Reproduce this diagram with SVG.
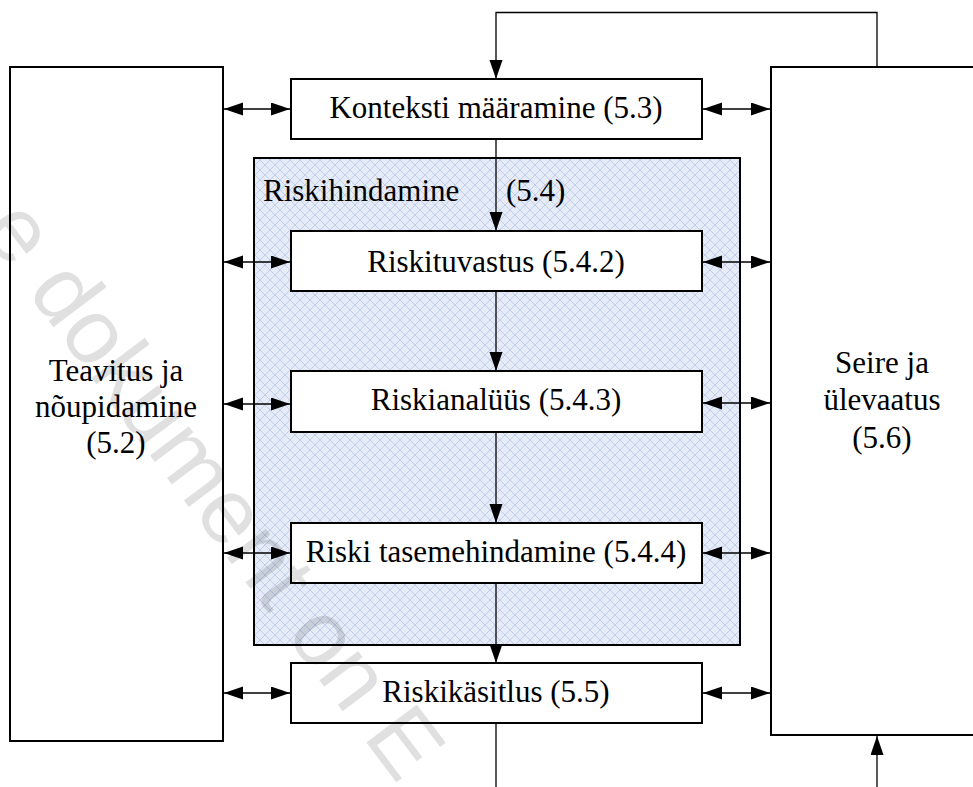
<svg xmlns="http://www.w3.org/2000/svg" width="973" height="787" viewBox="0 0 973 787">
  <style>
    .box { fill: #ffffff; stroke: #000000; stroke-width: 2; }
    .lbl { font-family: "Liberation Serif", "Times New Roman", serif; font-size: 31px; fill: #000000; }
    .mid { text-anchor: middle; }
    .con { fill: none; stroke: #000000; stroke-width: 1.3; }
    .wm { font-family: "Liberation Sans", Arial, sans-serif; font-size: 92px; fill: #000000; fill-opacity: 0.12; }
  </style>
  <defs>
    <marker id="arr" markerUnits="userSpaceOnUse" markerWidth="20" markerHeight="14" refX="19" refY="6.5" orient="auto-start-reverse">
      <path d="M0,0 L19,6.5 L0,13 Z" fill="#000000"/>
    </marker>
    <pattern id="hatch" width="10" height="10" patternUnits="userSpaceOnUse">
      <rect width="10" height="10" fill="#e5ecf7"/>
      <path d="M0,0 L10,10 M10,0 L0,10" stroke="#bccbe8" stroke-width="0.9"/>
    </pattern>
  </defs>
  <rect width="973" height="787" fill="#ffffff"/>

  <g id="teavitus">
    <rect class="box" x="10" y="67" width="213" height="674"/>
    <text class="lbl mid" x="116" y="381">Teavitus ja</text>
    <text class="lbl mid" x="116" y="417">nõupidamine</text>
    <text class="lbl mid" x="116" y="453">(5.2)</text>
  </g>

  <g id="seire">
    <rect class="box" x="771" y="67" width="240" height="668"/>
    <text class="lbl mid" x="882" y="373">Seire ja</text>
    <text class="lbl mid" x="882" y="410">ülevaatus</text>
    <text class="lbl mid" x="882" y="448">(5.6)</text>
  </g>

  <g id="riskihindamine">
    <rect x="254" y="158" width="486" height="487" fill="url(#hatch)" stroke="#000000" stroke-width="2"/>
    <text class="lbl" x="263" y="201">Riskihindamine</text>
    <text class="lbl" x="506" y="201">(5.4)</text>
  </g>

  <g id="kontekst">
    <rect class="box" x="291" y="79" width="411" height="60"/>
    <text class="lbl mid" x="496" y="118">Konteksti määramine (5.3)</text>
  </g>

  <g id="riskituvastus">
    <rect class="box" x="291" y="231" width="411" height="60"/>
    <text class="lbl mid" x="496" y="272">Riskituvastus (5.4.2)</text>
  </g>

  <g id="riskianalyys">
    <rect class="box" x="291" y="371" width="411" height="61"/>
    <text class="lbl mid" x="496" y="410">Riskianalüüs (5.4.3)</text>
  </g>

  <g id="tasemehindamine">
    <rect class="box" x="291" y="523" width="411" height="60"/>
    <text class="lbl mid" x="496" y="562">Riski tasemehindamine (5.4.4)</text>
  </g>

  <g id="riskikasitlus">
    <rect class="box" x="291" y="663" width="411" height="60"/>
    <text class="lbl mid" x="496" y="702">Riskikäsitlus (5.5)</text>
  </g>

  <g id="connectors">
    <polyline class="con" points="877,67 877,12.5 496,12.5 496,79" marker-end="url(#arr)"/>
    <line class="con" x1="496" y1="139" x2="496" y2="231" marker-end="url(#arr)"/>
    <line class="con" x1="496" y1="291" x2="496" y2="371" marker-end="url(#arr)"/>
    <line class="con" x1="496" y1="432" x2="496" y2="523" marker-end="url(#arr)"/>
    <line class="con" x1="496" y1="583" x2="496" y2="663" marker-end="url(#arr)"/>
    <line class="con" x1="496" y1="723" x2="496" y2="787"/>
    <line class="con" x1="877" y1="787" x2="877" y2="736" marker-end="url(#arr)"/>

    <line class="con" x1="224" y1="109" x2="290" y2="109" marker-start="url(#arr)" marker-end="url(#arr)"/>
    <line class="con" x1="224" y1="262" x2="290" y2="262" marker-start="url(#arr)" marker-end="url(#arr)"/>
    <line class="con" x1="224" y1="404" x2="290" y2="404" marker-start="url(#arr)" marker-end="url(#arr)"/>
    <line class="con" x1="224" y1="553" x2="290" y2="553" marker-start="url(#arr)" marker-end="url(#arr)"/>
    <line class="con" x1="224" y1="693" x2="290" y2="693" marker-start="url(#arr)" marker-end="url(#arr)"/>

    <line class="con" x1="703" y1="109" x2="770" y2="109" marker-start="url(#arr)" marker-end="url(#arr)"/>
    <line class="con" x1="703" y1="262" x2="770" y2="262" marker-start="url(#arr)" marker-end="url(#arr)"/>
    <line class="con" x1="703" y1="403" x2="770" y2="403" marker-start="url(#arr)" marker-end="url(#arr)"/>
    <line class="con" x1="703" y1="553" x2="770" y2="553" marker-start="url(#arr)" marker-end="url(#arr)"/>
    <line class="con" x1="703" y1="693" x2="770" y2="693" marker-start="url(#arr)" marker-end="url(#arr)"/>
  </g>

  <g id="watermark">
    <text class="wm" x="0" y="0" transform="translate(-20,230) rotate(53)">e dokument on E</text>
  </g>
</svg>
